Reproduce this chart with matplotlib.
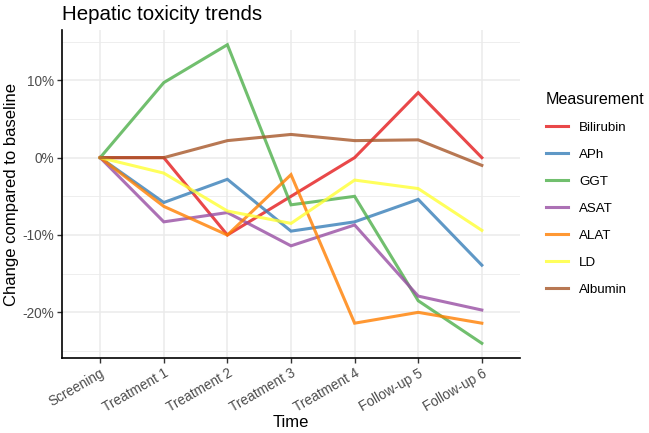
import matplotlib.pyplot as plt
from matplotlib.ticker import FuncFormatter, MultipleLocator

plt.rcParams['font.family'] = ['Liberation Sans', 'DejaVu Sans']

# data (percent change vs screening)
time_points = ['Screening', 'Treatment 1', 'Treatment 2', 'Treatment 3',
               'Treatment 4', 'Follow-up 5', 'Follow-up 6']
bilirubin = [0, 0, -10, -5, 0, 8.4, 0]
aph = [0, -5.8, -2.8, -9.5, -8.3, -5.4, -13.9]
ggt = [0, 9.7, 14.6, -6.1, -5.0, -18.5, -24.0]
asat = [0, -8.3, -7.1, -11.4, -8.7, -17.9, -19.7]
alat = [0, -6.3, -10, -2.2, -21.4, -20.0, -21.4]
ld = [0, -2.0, -6.9, -8.5, -2.9, -4.0, -9.4]
albumin = [0, 0, 2.2, 3.0, 2.2, 2.3, -1.0]

series = [('Bilirubin', bilirubin, '#E41A1C'),
          ('APh', aph, '#377EB8'),
          ('GGT', ggt, '#4DAF4A'),
          ('ASAT', asat, '#984EA3'),
          ('ALAT', alat, '#FF7F00'),
          ('LD', ld, '#FFFF33'),
          ('Albumin', albumin, '#A65628')]

fig = plt.figure(figsize=(6.49, 4.33), dpi=100)
ax = fig.add_axes([62 / 649, 1 - 358 / 433, (520 - 62) / 649, (358 - 30) / 433])

x = list(range(len(time_points)))
for name, vals, col in series:
    ax.plot(x, vals, color=col, alpha=0.8, linewidth=2.2, label=name,
            solid_joinstyle='miter')

ax.set_xlim(-0.6, 6.6)
ax.set_ylim(-25.9, 16.5)
ax.set_xticks(x)
ax.set_xticklabels(time_points, rotation=30, ha='right', rotation_mode='anchor')
ax.yaxis.set_major_locator(MultipleLocator(10))
ax.yaxis.set_minor_locator(MultipleLocator(5))
ax.yaxis.set_major_formatter(FuncFormatter(lambda v, p: f'{v:.0f}%'))

ax.grid(which='major', color='#EBEBEB', linewidth=1.1)
ax.grid(which='minor', axis='y', color='#EBEBEB', linewidth=0.6)
ax.set_axisbelow(True)
for s in ['top', 'right']:
    ax.spines[s].set_visible(False)
for s in ['left', 'bottom']:
    ax.spines[s].set_color('black')
    ax.spines[s].set_linewidth(1.2)
ax.tick_params(which='major', length=3.5, width=1.0, color='#333333', labelsize=9.8,
               labelcolor='#4D4D4D', pad=2.5)
ax.tick_params(which='minor', length=0)

ax.set_xlabel('Time', fontsize=12, labelpad=0)
ax.set_ylabel('Change compared to baseline', fontsize=12, labelpad=2)
ax.set_title('Hepatic toxicity trends', loc='left', fontsize=14.8, x=0.0, pad=7)

leg = ax.legend(title='Measurement', loc='center left', bbox_to_anchor=(1.03, 0.5),
                frameon=False, fontsize=9.6, title_fontsize=11.6,
                handlelength=1.7, labelspacing=1.1, handletextpad=0.8)
leg._legend_box.align = 'left'

plt.savefig('out.png', dpi=100)
